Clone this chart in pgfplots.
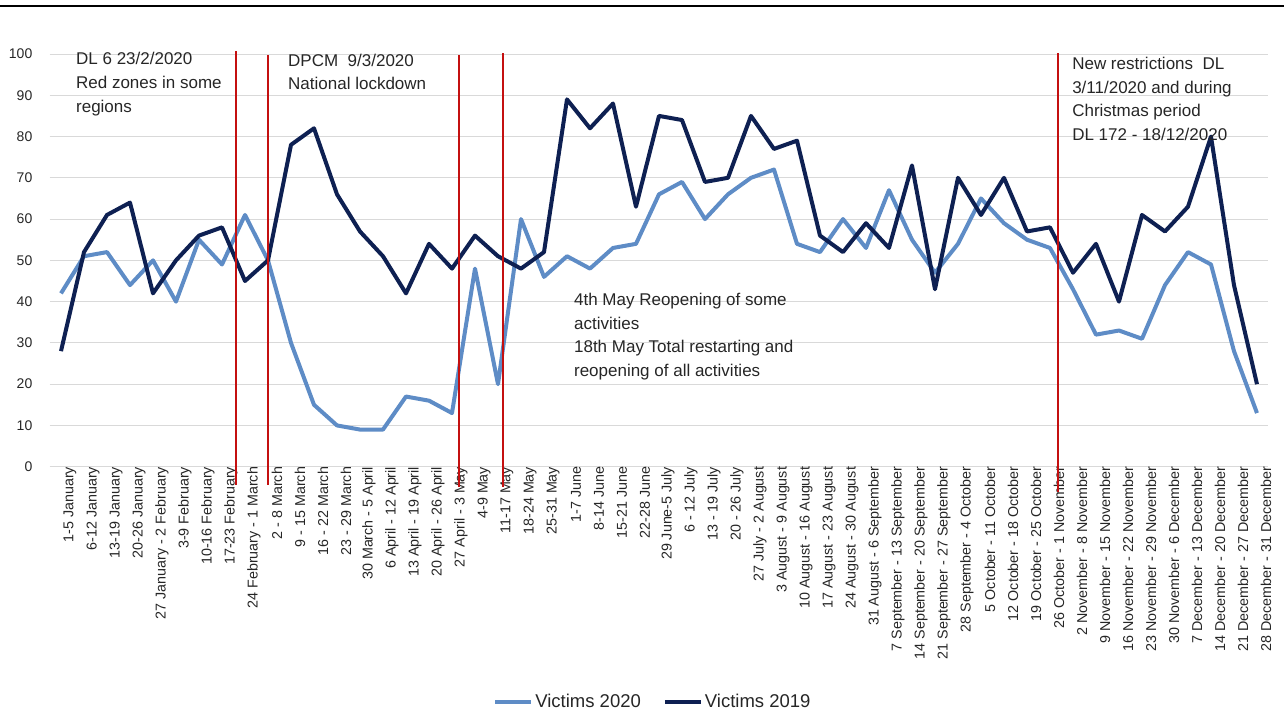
\documentclass[border=0pt]{standalone}
\usepackage{fontspec}
\setmainfont{Liberation Sans}
\usepackage{pgfplots}
\usepackage{pgfplotstable}
\pgfplotsset{compat=1.18}

\definecolor{vic2020}{RGB}{94,140,198}
\definecolor{vic2019}{RGB}{14,32,82}
\definecolor{marker}{RGB}{196,16,16}
\definecolor{gridgray}{RGB}{217,217,217}
\definecolor{txt}{RGB}{38,38,38}

% weekly victims, index = week of the year
\pgfplotstableread{
idx v2020 v2019
0 42 28
1 51 52
2 52 61
3 44 64
4 50 42
5 40 50
6 55 56
7 49 58
8 61 45
9 50 50
10 30 78
11 15 82
12 10 66
13 9 57
14 9 51
15 17 42
16 16 54
17 13 48
18 48 56
19 20 51
20 60 48
21 46 52
22 51 89
23 48 82
24 53 88
25 54 63
26 66 85
27 69 84
28 60 69
29 66 70
30 70 85
31 72 77
32 54 79
33 52 56
34 60 52
35 53 59
36 67 53
37 55 73
38 47 43
39 54 70
40 65 61
41 59 70
42 55 57
43 53 58
44 43 47
45 32 54
46 33 40
47 31 61
48 44 57
49 52 63
50 49 80
51 28 44
52 13 20
}\victims

\begin{document}
\begin{tikzpicture}
\path[use as bounding box] (-49.5pt,-246.3pt) rectangle (1234.5pt,466.7pt);
\draw[black, line width=2.5pt] (-49.5pt,460.9pt) -- (1234.5pt,460.9pt);
\begin{axis}[
  scale only axis,
  width=1219pt, height=412.7pt,
  xmin=-0.5, xmax=52.5,
  ymin=0, ymax=100,
  clip=false,
  axis x line=bottom, axis y line=left,
  axis line style={draw=none},
  major tick length=0pt,
  ymajorgrids,
  grid style={gridgray, line width=1pt},
  ytick={0,10,...,100},
  /pgf/number format/assume math mode=true,
  yticklabel style={font=\fontsize{14}{14}\selectfont, text=txt, inner sep=0pt, xshift=-17pt},
  xtick={0,...,52},
  xticklabels={
    1-5 January, 6-12 January, 13-19 January, 20-26 January,
    27 January - 2 February, 3-9 February, 10-16 February, 17-23 February,
    24 February - 1 March, 2 - 8 March, 9 - 15 March, 16 - 22 March,
    23 - 29 March, 30 March - 5 April, 6 April - 12 April, 13 April - 19 April,
    20 April - 26 April, 27 April - 3 May, 4-9 May, 11-17 May,
    18-24 May, 25-31 May, 1-7 June, 8-14 June,
    15-21 June, 22-28 June, 29 June-5 July, 6 - 12 July,
    13 - 19 July, 20 - 26 July, 27 July - 2 August, 3 August - 9 August,
    10 August - 16 August, 17 August - 23 August, 24 August - 30 August, 31 August - 6 September,
    7 September - 13 September, 14 September - 20 September, 21 September - 27 September, 28 September - 4 October,
    5 October - 11 October, 12 October - 18 October, 19 October - 25 October, 26 October - 1 November,
    2 November - 8 November, 9 November - 15 November, 16 November - 22 November, 23 November - 29 November,
    30 November - 6 December, 7 December - 13 December, 14 December - 20 December, 21 December - 27 December,
    28 December - 31 December},
  xticklabel style={rotate=90, anchor=east, inner sep=0pt, yshift=-9pt,
    font=\fontsize{14.3}{14.3}\selectfont, text=txt},
  legend columns=2,
  legend style={at={(axis description cs:0.495,-0.570)}, anchor=center,
    draw=none, fill=none, font=\fontsize{18.5}{18.5}\selectfont, text=txt,
    /tikz/every even column/.append style={column sep=20pt}},
  legend image code/.code={\draw[#1, line width=4pt] (0pt,0pt) -- (36pt,0pt);},
]
\addplot[vic2020, line width=4pt, line join=round] table[x=idx, y=v2020] {\victims};
\addlegendentry{Victims 2020}
\addplot[vic2019, line width=4pt, line join=round] table[x=idx, y=v2019] {\victims};
\addlegendentry{Victims 2019}

% decree dates
\draw[marker, line width=2pt] (axis cs:7.61,-4.4) -- (axis cs:7.61,100.8);
\draw[marker, line width=2pt] (axis cs:9.0,-4.4) -- (axis cs:9.0,99.8);
\draw[marker, line width=2pt] (axis cs:17.3,-4.8) -- (axis cs:17.3,99.8);
\draw[marker, line width=2pt] (axis cs:19.22,-4.8) -- (axis cs:19.22,100.3);
\draw[marker, line width=2pt] (axis cs:43.35,-6.1) -- (axis cs:43.35,100.2);

\begin{scope}[every node/.style={anchor=north west, align=left, inner sep=0pt, text=txt,
    font=\fontsize{17}{23.7}\selectfont}]
\node at (axis cs:0.65,100.4) {DL 6 23/2/2020\\Red zones in some\\regions};
\node at (axis cs:9.87,100.1) {DPCM\ \ 9/3/2020\\National lockdown};
\node at (axis cs:22.3,42.1) {4th May Reopening of some\\activities\\18th May Total restarting and\\reopening of all activities};
\node at (axis cs:43.96,99.3) {New restrictions\ \ DL\\3/11/2020 and during\\Christmas period\\DL 172 - 18/12/2020};
\end{scope}
\end{axis}
\end{tikzpicture}
\end{document}
